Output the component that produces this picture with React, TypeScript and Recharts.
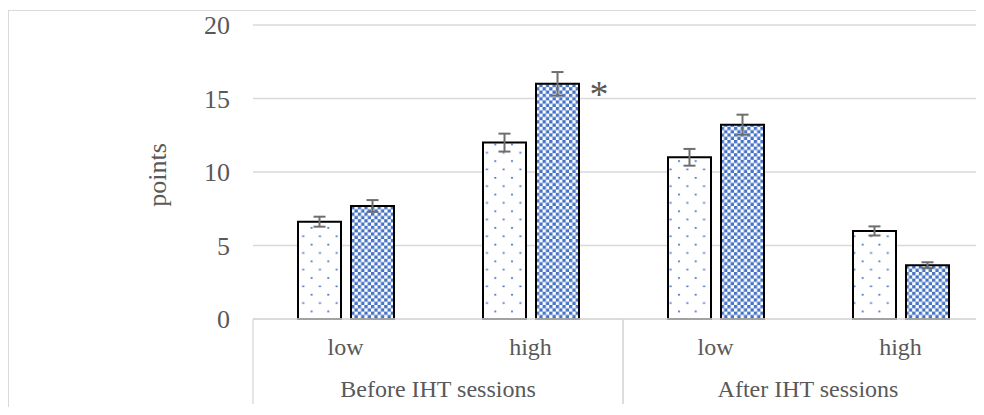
import React from 'react';
import { BarChart, Bar, XAxis, YAxis, CartesianGrid, ErrorBar, LabelList } from 'recharts';

const levels = ['low', 'high', 'low', 'high'];
const groupOf = ['Before IHT sessions', 'Before IHT sessions', 'After IHT sessions', 'After IHT sessions'];
const dottedValues = [6.62, 12.0, 11.0, 5.99];
const dottedErrors = [0.34, 0.61, 0.57, 0.31];
const checkerValues = [7.69, 16.0, 13.22, 3.66];
const checkerErrors = [0.4, 0.8, 0.68, 0.2];
const marks = ['', '*', '', ''];
const yTicks = [0, 5, 10, 15, 20];

const rows = levels.map((level, i) => ({
  level,
  group: groupOf[i],
  dotted: dottedValues[i],
  dottedErr: dottedErrors[i],
  checker: checkerValues[i],
  checkerErr: checkerErrors[i],
  mark: marks[i],
}));

const CHART_W = 1000;
const CHART_H = 399;
const MARGIN = { top: 17, right: 15, bottom: 0, left: 0 };
const YAXIS_W = 245;
const XAXIS_H = 88;
const PLOT_W = CHART_W - MARGIN.left - MARGIN.right - YAXIS_W;
const BAND = PLOT_W / rows.length;

const FONT = '"Liberation Serif", "Times New Roman", serif';
const TEXT = '#595959';
const GRID = '#d9d9d9';

const XTick = (props: any) => {
  const { x, y, payload } = props;
  const i = payload.index;
  const row = rows[i];
  const first = i === 0 || rows[i - 1].group !== row.group;
  const last = i === rows.length - 1 || rows[i + 1].group !== row.group;
  let span = 0;
  if (first) {
    let j = i;
    while (j < rows.length && rows[j].group === row.group) j++;
    span = j - i;
  }
  return (
    <g>
      <text x={x} y={y + 36} textAnchor="middle" fill={TEXT} fontSize={24} fontFamily={FONT}>
        {payload.value}
      </text>
      {first && (
        <line x1={x - BAND / 2} x2={x - BAND / 2} y1={y} y2={y + 85} stroke={GRID} strokeWidth={1.3} />
      )}
      {last && (
        <line x1={x + BAND / 2} x2={x + BAND / 2} y1={y} y2={y + 85} stroke={GRID} strokeWidth={1.3} />
      )}
      {first && (
        <text
          x={x - BAND / 2 + (span * BAND) / 2}
          y={y + 78}
          textAnchor="middle"
          fill={TEXT}
          fontSize={24}
          fontFamily={FONT}
        >
          {row.group}
        </text>
      )}
    </g>
  );
};

const YTick = (props: any) => {
  const { x, y, payload } = props;
  return (
    <text x={x} y={y} dy={9} textAnchor="end" fill={TEXT} fontSize={26} fontFamily={FONT}>
      {payload.value}
    </text>
  );
};

const MarkLabel = (props: any) => {
  const { x, y, width, value } = props;
  if (!value) return null;
  return (
    <text x={x + width + 20} y={y + 23} textAnchor="middle" fill={TEXT} fontSize={38} fontFamily={FONT}>
      {value}
    </text>
  );
};

const YLabel = () => (
  <text
    x={149}
    y={167}
    transform="rotate(-90, 149, 167)"
    textAnchor="middle"
    dominantBaseline="central"
    fill={TEXT}
    fontSize={26}
    fontFamily={FONT}
  >
    points
  </text>
);

export default function App() {
  return (
    <div style={{ position: 'relative', width: 976, height: 399, overflow: 'hidden' }}>
      <svg width={0} height={0} style={{ position: 'absolute' }}>
        <defs>
          <pattern id="dots" width={16.7} height={16.7} patternUnits="userSpaceOnUse">
            <rect x={0} y={0} width={16.7} height={16.7} fill="#ffffff" />
            <rect x={2} y={2} width={2} height={1.6} fill="#4472C4" />
            <rect x={10.35} y={10.35} width={2} height={1.6} fill="#4472C4" />
          </pattern>
          <pattern id="checker" width={6.6} height={6.6} patternUnits="userSpaceOnUse">
            <rect x={0} y={0} width={6.6} height={6.6} fill="#ffffff" />
            <rect x={0} y={0} width={3.3} height={3.3} fill="#4472C4" />
            <rect x={3.3} y={3.3} width={3.3} height={3.3} fill="#4472C4" />
          </pattern>
        </defs>
      </svg>
      <div
        style={{
          position: 'absolute',
          left: 0,
          top: 2,
          width: 2000,
          height: 2000,
          borderTop: `1px solid ${GRID}`,
          borderLeft: `1px solid ${GRID}`,
        }}
      />
      <div style={{ position: 'absolute', left: 0, top: 0 }}>
        <BarChart
          width={CHART_W}
          height={CHART_H}
          data={rows}
          margin={MARGIN}
          barCategoryGap={45}
          barGap={10}
        >
          <CartesianGrid vertical={false} stroke={GRID} strokeWidth={1.3} />
          <XAxis
            dataKey="level"
            height={XAXIS_H}
            axisLine={{ stroke: GRID, strokeWidth: 1.3 }}
            tickLine={false}
            tickSize={0}
            tickMargin={0}
            interval={0}
            tick={<XTick />}
          />
          <YAxis
            width={YAXIS_W}
            domain={[0, 20]}
            ticks={yTicks}
            axisLine={false}
            tickLine={false}
            tickSize={0}
            tickMargin={23}
            tick={<YTick />}
            label={{ content: <YLabel /> }}
          />
          <Bar dataKey="dotted" fill="url(#dots)" stroke="#000" strokeWidth={2} isAnimationActive={false}>
            <ErrorBar dataKey="dottedErr" width={6} stroke="#6e6e6e" strokeWidth={2} direction="y" />
          </Bar>
          <Bar dataKey="checker" fill="url(#checker)" stroke="#000" strokeWidth={2} isAnimationActive={false}>
            <ErrorBar dataKey="checkerErr" width={6} stroke="#6e6e6e" strokeWidth={2} direction="y" />
            <LabelList dataKey="mark" content={<MarkLabel />} />
          </Bar>
        </BarChart>
      </div>
    </div>
  );
}
